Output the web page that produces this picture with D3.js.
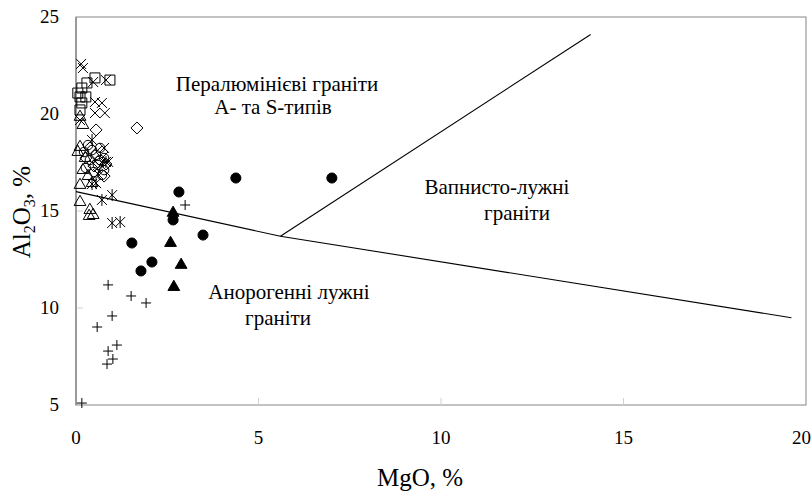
<!DOCTYPE html>
<html>
<head>
<meta charset="utf-8">
<script src="https://cdn.jsdelivr.net/npm/d3@7"></script>
<style>
  body { margin: 0; background: #fff; }
  svg text { font-family: "Liberation Serif", "Times New Roman", "DejaVu Serif", serif; }
</style>
</head>
<body>
<div class="chart"></div>
<script>
// axis ticks
const xTicks = [0, 5, 10, 15, 20];
const yTicks = [5, 10, 15, 20, 25];

// sample groups, [MgO, Al2O3]
const crosses = [[0.14,22.58],[0.19,22.37],[0.47,21.65],[0.82,21.75],[0.52,20.62],[0.71,20.57],
  [0.52,20.05],[0.79,20.05],[0.11,19.69],[0.88,17.53],[0.77,18.25],[0.60,16.91]];
const squares = [[0.52,21.86],[0.93,21.75],[0.30,21.60],[0.16,21.34],[0.05,21.08],[0.11,20.88],
  [0.16,20.57],[0.11,20.21],[0.27,20.88]];
const diamonds = [[1.67,19.28],[0.55,19.18],[0.38,18.25],[0.71,18.04],[0.60,17.53],[0.82,17.42],
  [0.49,17.32],[0.27,17.73],[0.77,16.80]];
const openCircles = [[0.33,18.40],[0.44,18.14],[0.55,17.89],[0.66,17.63],[0.38,17.63],[0.60,17.37],
  [0.77,17.11],[0.49,17.01],[0.71,16.86],[0.27,17.22],[0.66,18.25],[0.22,18.04],[0.77,17.73]];
const openTriangles = [[0.19,19.43],[0.11,18.30],[0.25,17.73],[0.19,17.11],[0.11,16.34],[0.44,16.44],
  [0.11,15.46],[0.38,15.05],[0.36,14.74],[0.47,14.79],[0.05,18.04],[0.33,16.80],[0.11,19.85]];
const asterisks = [[0.44,16.39],[0.71,15.57],[0.99,15.82],[0.99,14.38],[1.21,14.43],[0.44,18.66],
  [0.55,16.44],[0.82,17.53]];
const pluses = [[0.88,11.19],[1.51,10.62],[1.92,10.26],[0.99,9.59],[0.58,9.02],[1.12,8.09],
  [0.88,7.78],[1.01,7.37],[0.85,7.11],[0.16,5.1],[2.99,15.31]];
const filledCircles = [[4.38,16.70],[7.01,16.70],[2.82,15.98],[2.66,14.54],[3.48,13.76],
  [1.53,13.35],[2.08,12.37],[1.78,11.91]];
const filledTriangles = [[2.66,14.90],[2.59,13.35],[2.88,12.22],[2.68,11.08]];

// field boundaries
const boundaryLow = [[0,16.0],[5.6,13.7],[19.6,9.5]];
const boundaryUp = [[5.6,13.7],[14.1,24.1]];

const width = 812, height = 495;
const margin = {top: 17, right: 6, bottom: 90, left: 76};

const svg = d3.select('.chart').append('svg')
  .attr('width', width)
  .attr('height', height);

const x = d3.scaleLinear().domain([0, 20]).range([margin.left, width - margin.right]);
const y = d3.scaleLinear().domain([5, 25]).range([height - margin.bottom, margin.top]);

// plot frame
svg.append('rect')
  .attr('x', x(0)).attr('y', y(25))
  .attr('width', x(20) - x(0)).attr('height', y(5) - y(25))
  .attr('fill', 'none').attr('stroke', '#9a9a9a').attr('stroke-width', 1.2);

// inner tick marks
svg.append('g').selectAll('line').data(xTicks.slice(1, -1)).enter().append('line')
  .attr('x1', d => x(d)).attr('x2', d => x(d))
  .attr('y1', y(5)).attr('y2', y(5) - 7)
  .attr('stroke', '#d0d0d0');
svg.append('g').selectAll('line').data(yTicks.slice(1, -1)).enter().append('line')
  .attr('x1', x(0)).attr('x2', x(0) + 7)
  .attr('y1', d => y(d)).attr('y2', d => y(d))
  .attr('stroke', '#d0d0d0');

// left axis line a bit darker
svg.append('line')
  .attr('x1', x(0)).attr('x2', x(0)).attr('y1', y(5)).attr('y2', y(25))
  .attr('stroke', '#808080').attr('stroke-width', 1.2);

// tick labels (last x label pulled in so it stays on the page)
svg.append('g').selectAll('text').data(xTicks).enter().append('text')
  .attr('x', d => d === 20 ? width - 1 : x(d))
  .attr('y', y(5) + 39)
  .attr('text-anchor', d => d === 20 ? 'end' : 'middle')
  .attr('font-size', 19)
  .text(d => d);
svg.append('g').selectAll('text').data(yTicks).enter().append('text')
  .attr('x', x(0) - 17).attr('y', d => y(d) + 6)
  .attr('text-anchor', 'end').attr('font-size', 19)
  .text(d => d);

// axis titles
svg.append('text')
  .attr('x', 420).attr('y', 486)
  .attr('text-anchor', 'middle').attr('font-size', 25)
  .text('MgO, %');

const yTitle = svg.append('text')
  .attr('transform', 'translate(30,212) rotate(-90)')
  .attr('text-anchor', 'middle').attr('font-size', 25);
yTitle.append('tspan').text('Al');
yTitle.append('tspan').attr('font-size', 16).attr('dy', 5).text('2');
yTitle.append('tspan').attr('dy', -5).text('O');
yTitle.append('tspan').attr('font-size', 16).attr('dy', 5).text('3');
yTitle.append('tspan').attr('dy', -5).text(', %');

// boundary lines
const line = d3.line().x(d => x(d[0])).y(d => y(d[1]));
[boundaryLow, boundaryUp].forEach(b => {
  svg.append('path').attr('d', line(b))
    .attr('fill', 'none').attr('stroke', '#000').attr('stroke-width', 1.1);
});

// field labels
const labels = [
  {t: 'Пералюмінієві граніти', x: 277, y: 91},
  {t: 'A- та S-типів', x: 273, y: 114},
  {t: 'Вапнисто-лужні', x: 497, y: 194},
  {t: 'граніти', x: 517, y: 220},
  {t: 'Анорогенні лужні', x: 289, y: 299},
  {t: 'граніти', x: 278, y: 325}
];
svg.append('g').selectAll('text').data(labels).enter().append('text')
  .attr('x', d => d.x).attr('y', d => d.y)
  .attr('text-anchor', 'middle').attr('font-size', 21)
  .text(d => d.t);

// marker shapes
const crossPath = 'M-5,-5L5,5M-5,5L5,-5';
const plusPath = 'M-5,0L5,0M0,-5L0,5';
const starPath = 'M-5,-5L5,5M-5,5L5,-5M0,-6L0,6';

function drawGroup(data, path, filled) {
  svg.append('g').selectAll('path').data(data).enter().append('path')
    .attr('transform', d => 'translate(' + x(d[0]) + ',' + y(d[1]) + ')')
    .attr('d', path)
    .attr('fill', filled ? '#000' : 'none')
    .attr('stroke', '#000')
    .attr('stroke-width', 1);
}

drawGroup(crosses, crossPath, false);
drawGroup(squares, d3.symbol(d3.symbolSquare, 100)(), false);
drawGroup(diamonds, 'M0,-6L6,0L0,6L-6,0Z', false);
drawGroup(openCircles, d3.symbol(d3.symbolCircle, 70)(), false);
drawGroup(openTriangles, d3.symbol(d3.symbolTriangle, 60)(), false);
drawGroup(asterisks, starPath, false);
drawGroup(pluses, plusPath, false);
drawGroup(filledCircles, d3.symbol(d3.symbolCircle, 80)(), true);
drawGroup(filledTriangles, d3.symbol(d3.symbolTriangle, 60)(), true);
</script>
</body>
</html>
